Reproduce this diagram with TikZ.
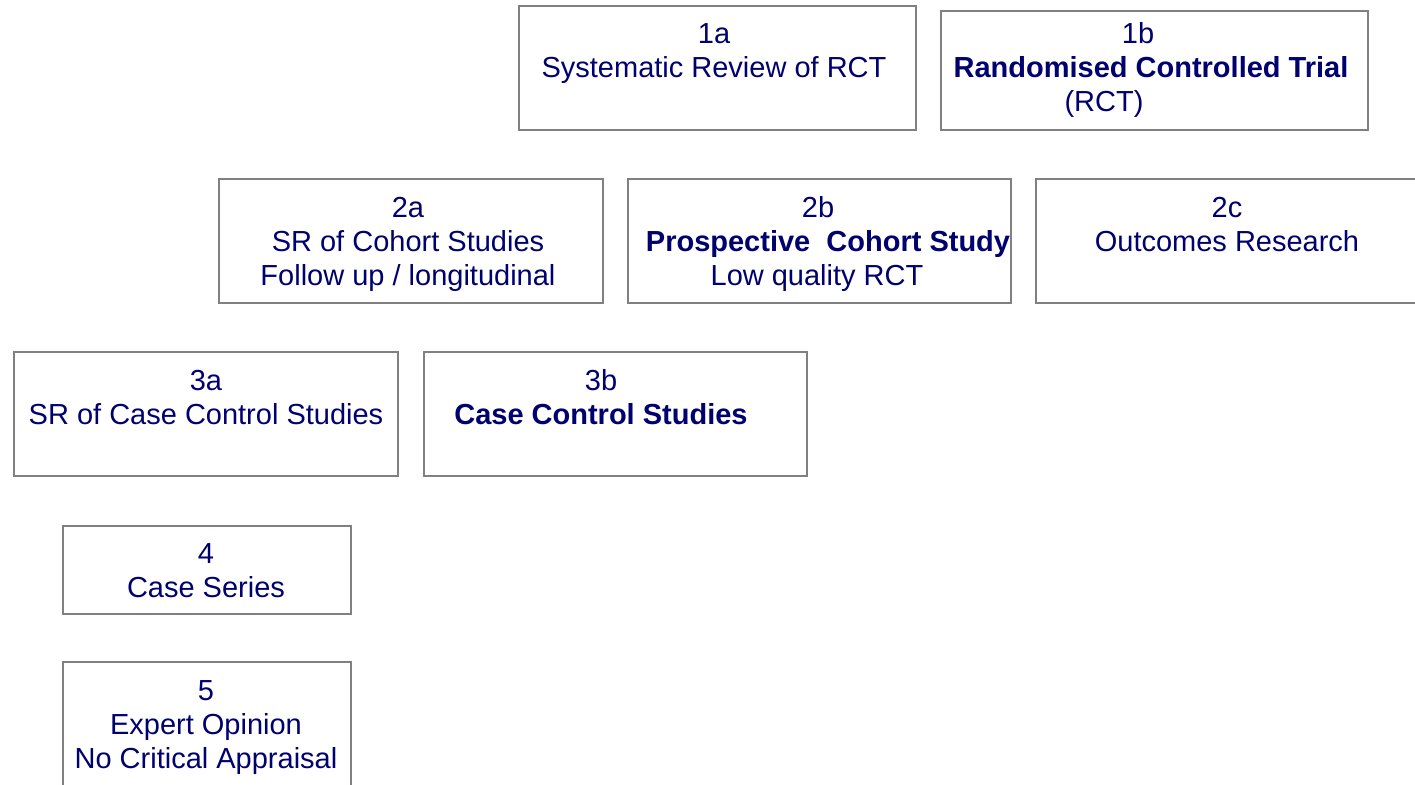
\documentclass[tikz,border=0pt]{standalone}
\usepackage{fontspec}
\setmainfont{Liberation Sans}
\usepackage{tikz}
\definecolor{navy}{RGB}{0,0,110}
\definecolor{boxgray}{RGB}{128,128,128}

\begin{document}
\begin{tikzpicture}[x=0.5pt,y=-0.5pt,
	box/.style={draw=boxgray,line width=1pt},
	txt/.style={anchor=base,inner sep=0pt,text=navy,font=\fontsize{14.5}{17}\selectfont}]
	\useasboundingbox (0,0) rectangle (1415,784);
	\clip (0,0) rectangle (1415,784);
	% Level 1 %
	\draw [box] (519,6) rectangle (916,130);
	\draw [box] (941,11) rectangle (1368,130);
	\node (l1a) [txt] at (714,43) {1a};
	\node (sr1a) [txt] at (714,77) {Systematic Review of RCT};
	\node (l1b) [txt] at (1138,43) {1b};
	\node (rct1b) [txt,font=\fontsize{14.5}{17}\selectfont\bfseries] at (1151,77) {Randomised Controlled Trial};
	\node (abbr1b) [txt] at (1104,111) {(RCT)};
	% Level 2 %
	\draw [box] (219,179) rectangle (603,303);
	\draw [box] (628,179) rectangle (1011,303);
	\draw [box] (1036,179) rectangle (1430,303);
	\node (l2a) [txt] at (408,217) {2a};
	\node (sr2a) [txt] at (408,251) {SR of Cohort Studies};
	\node (fu2a) [txt] at (408,285) {Follow up / longitudinal};
	\node (l2b) [txt] at (818,217) {2b};
	\node (pc2b) [txt,font=\fontsize{14.5}{17}\selectfont\bfseries] at (828,251) {Prospective\ \ Cohort Study};
	\node (lq2b) [txt] at (817,285) {Low quality RCT};
	\node (l2c) [txt] at (1227,217) {2c};
	\node (or2c) [txt] at (1227,251) {Outcomes Research};
	% Level 3 %
	\draw [box] (14,352) rectangle (398,476);
	\draw [box] (424,352) rectangle (807,476);
	\node (l3a) [txt] at (206,390) {3a};
	\node (sr3a) [txt] at (206,424) {SR of Case Control Studies};
	\node (l3b) [txt] at (601,390) {3b};
	\node (cc3b) [txt,font=\fontsize{14.5}{17}\selectfont\bfseries] at (601,424) {Case Control Studies};
	% Level 4 %
	\draw [box] (63,526) rectangle (351,614);
	\node (l4) [txt] at (206,563) {4};
	\node (cs4) [txt] at (206,597) {Case Series};
	% Level 5 %
	\draw [box] (63,662) rectangle (351,800);
	\node (l5) [txt] at (206,700) {5};
	\node (eo5) [txt] at (206,734) {Expert Opinion};
	\node (nc5) [txt] at (206,768) {No Critical Appraisal};
\end{tikzpicture}
\end{document}
